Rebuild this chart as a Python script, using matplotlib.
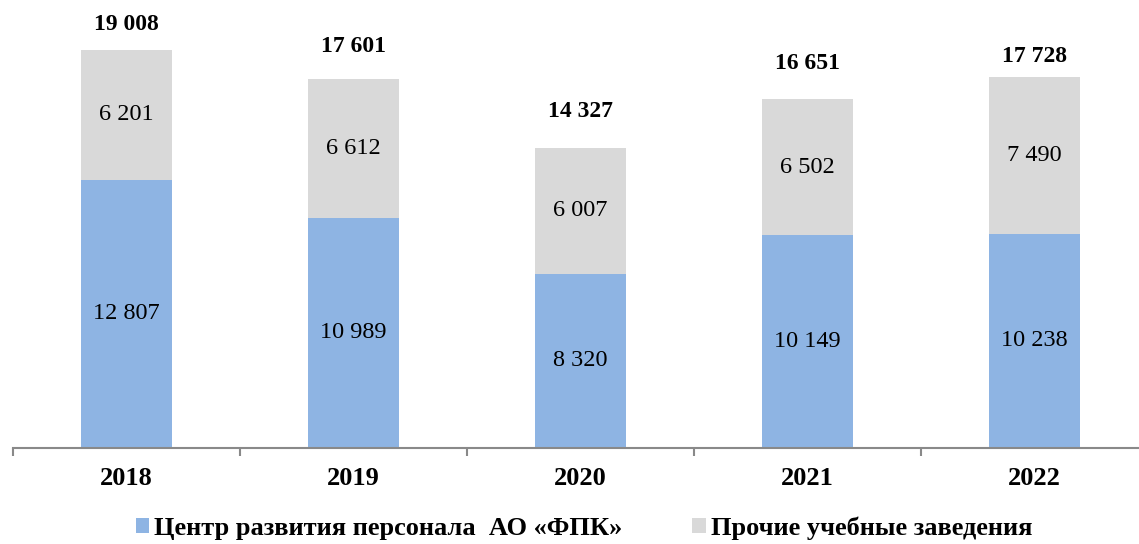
import matplotlib
matplotlib.use("Agg")
import matplotlib.pyplot as plt
from matplotlib.patches import Patch
import numpy as np

years = ["2018", "2019", "2020", "2021", "2022"]
center = [12807, 10989, 8320, 10149, 10238]
other = [6201, 6612, 6007, 6502, 7490]
totals = [19008, 17601, 14327, 16651, 17728]
series_names = ["Центр развития персонала  АО «ФПК»", "Прочие учебные заведения"]

# styling: vertical offset (points) of each total label above its bar
total_offsets = [18.5, 23.5, 26.5, 25.5, 14.5]

blue = "#8EB4E3"
gray = "#D9D9D9"

plt.rcParams['font.family'] = ['Liberation Serif', 'DejaVu Serif']

def fmt(v):
    return f"{v:,}".replace(",", " ")

W, H = 1139, 544
fig = plt.figure(figsize=(W/100, H/100), dpi=100)
ax = fig.add_axes([13/W, (H-448)/H, (1139-13)/W, (448-10)/H])

x = np.arange(len(years))
bw = 0.4
b1 = ax.bar(x, center, bw, color=blue, zorder=2)
b2 = ax.bar(x, other, bw, bottom=center, color=gray, zorder=2)

for i in range(len(years)):
    ax.text(x[i], center[i]/2, fmt(center[i]), ha='center', va='center', fontsize=17.5, color='black')
    ax.text(x[i], center[i] + other[i]/2, fmt(other[i]), ha='center', va='center', fontsize=17.5, color='black')
    ax.annotate(fmt(totals[i]), (x[i], totals[i]), xytext=(0, total_offsets[i]), textcoords='offset points',
                ha='center', va='center', fontsize=17, fontweight='bold')

ax.set_xlim(-0.5, 4.46)
ax.set_ylim(0, 19008 * 438 / 398)
for s in ['top', 'right', 'left']:
    ax.spines[s].set_visible(False)
ax.spines['bottom'].set_color('#898989')
ax.spines['bottom'].set_linewidth(1.5)
ax.set_yticks([])
ax.set_xticks(x)
ax.set_xticklabels(years, fontsize=19, fontweight='bold')
ax.tick_params(axis='x', which='major', length=0, pad=14)
ax.set_xticks(np.arange(-0.5, 4.5, 1.0), minor=True)
ax.tick_params(axis='x', which='minor', length=6, width=1.5, color='#898989')

handles = [Patch(facecolor=blue, edgecolor='none'), Patch(facecolor=gray, edgecolor='none')]
fig.legend(handles, series_names, loc='center', bbox_to_anchor=(584/W, 1 - 528/H), ncol=2,
           frameon=False, prop={'size': 19, 'weight': 'bold'}, handlelength=0.5, handleheight=0.5,
           handletextpad=0.2, columnspacing=2.65, borderpad=0)

fig.savefig("out.png", dpi=100)
